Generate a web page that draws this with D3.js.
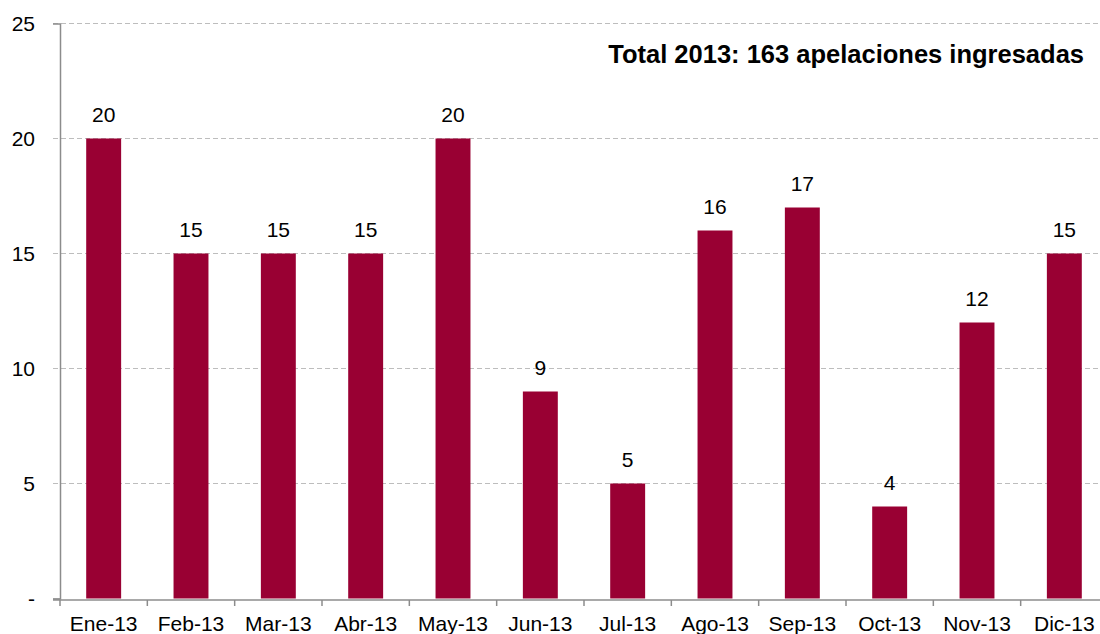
<!DOCTYPE html>
<html>
<head>
<meta charset="utf-8">
<script src="https://d3js.org/d3.v7.min.js"></script>
<style>
  body { margin: 0; background: #fff; }
  text { font-family: "Liberation Sans", Arial, sans-serif; }
</style>
</head>
<body>
<svg width="1100" height="634"></svg>
<script>
// monthly appeals, 2013
const months = ['Ene-13', 'Feb-13', 'Mar-13', 'Abr-13', 'May-13', 'Jun-13',
                'Jul-13', 'Ago-13', 'Sep-13', 'Oct-13', 'Nov-13', 'Dic-13'];
const appeals = [20, 15, 15, 15, 20, 9, 5, 16, 17, 4, 12, 15];
const yTicks = [0, 5, 10, 15, 20, 25];
const title = 'Total 2013: 163 apelaciones ingresadas';

const svg = d3.select('svg');
const data = months.map((m, i) => ({ month: m, value: appeals[i] }));

const margin = { left: 60, right: 1108, top: 23.5, bottom: 598.5 };

const x = d3.scaleBand()
    .domain(months)
    .range([margin.left, margin.right])
    .paddingInner(0.6)
    .paddingOuter(0.3);

const y = d3.scaleLinear()
    .domain([0, 25])
    .range([margin.bottom, margin.top]);

// dashed gridlines
svg.append('g')
    .selectAll('line')
    .data(yTicks.filter(d => d > 0))
    .enter().append('line')
    .attr('x1', 53)
    .attr('x2', 1100)
    .attr('y1', d => y(d))
    .attr('y2', d => y(d))
    .attr('stroke', '#bdbdbd')
    .attr('stroke-width', 1)
    .attr('stroke-dasharray', '5,3');

// y axis
const yAxis = svg.append('g')
    .attr('transform', `translate(${margin.left},0)`)
    .call(d3.axisLeft(y).tickValues(yTicks).tickSize(7).tickPadding(18)
        .tickFormat(d => d === 0 ? '-' : d));
yAxis.select('.domain').attr('stroke', '#8c8c8c').attr('stroke-width', 1.5);
yAxis.selectAll('.tick line').attr('stroke', d => d === 0 ? '#8c8c8c' : 'none');
yAxis.selectAll('text').style('font-size', '21px').attr('fill', '#000');

// bars
svg.append('g')
    .selectAll('.bar')
    .data(data)
    .enter().append('rect')
    .attr('class', 'bar')
    .attr('x', d => x(d.month))
    .attr('y', d => y(d.value))
    .attr('width', x.bandwidth())
    .attr('height', d => margin.bottom - y(d.value))
    .attr('fill', '#990033');

// value labels
svg.append('g')
    .selectAll('.bar-label')
    .data(data)
    .enter().append('text')
    .attr('class', 'bar-label')
    .attr('x', d => x(d.month) + x.bandwidth() / 2)
    .attr('y', d => y(d.value) - 17)
    .attr('text-anchor', 'middle')
    .style('font-size', '21px')
    .attr('fill', '#000')
    .text(d => d.value);

// x axis line
svg.append('line')
    .attr('x1', 53).attr('x2', 1100)
    .attr('y1', 600).attr('y2', 600)
    .attr('stroke', '#8c8c8c').attr('stroke-width', 1.5);

// category boundary ticks
const step = x.step();
svg.append('g')
    .selectAll('line')
    .data(months)
    .enter().append('line')
    .attr('x1', (d, i) => margin.left + i * step)
    .attr('x2', (d, i) => margin.left + i * step)
    .attr('y1', 600).attr('y2', 606)
    .attr('stroke', '#8c8c8c').attr('stroke-width', 1.5);

// category labels
svg.append('g')
    .selectAll('text')
    .data(months)
    .enter().append('text')
    .attr('x', d => x(d) + x.bandwidth() / 2)
    .attr('y', 631)
    .attr('text-anchor', 'middle')
    .style('font-size', '21px')
    .attr('fill', '#000')
    .text(d => d);

// total annotation
svg.append('text')
    .attr('x', 1084)
    .attr('y', 63)
    .attr('text-anchor', 'end')
    .style('font-size', '25.5px')
    .style('font-weight', 'bold')
    .attr('fill', '#000')
    .text(title);
</script>
</body>
</html>
